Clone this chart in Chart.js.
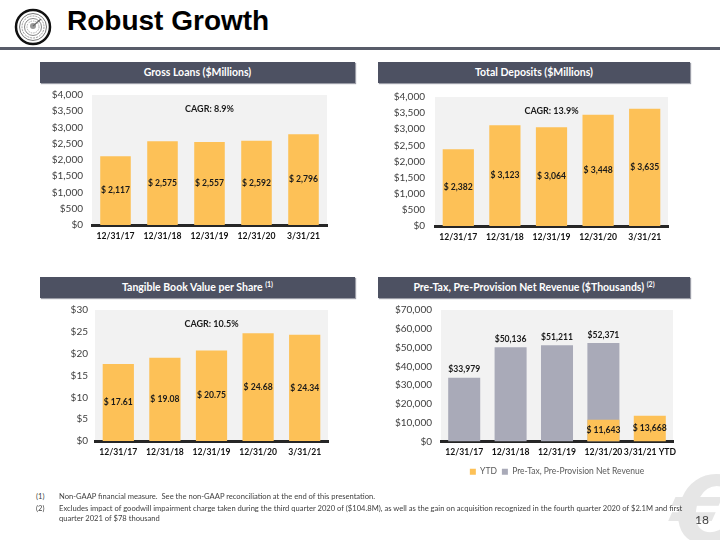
<!DOCTYPE html>
<html>
<head>
<meta charset="utf-8">
<script src="https://cdn.jsdelivr.net/npm/chart.js@4.4.1/dist/chart.umd.min.js"></script>
<style>
  html, body { margin:0; padding:0; background:#ffffff; }
  body { width:720px; height:540px; position:relative; overflow:hidden; font-family: Lato, "Open Sans", sans-serif; }
  .title { position:absolute; left:67px; top:5px; font-family:"Liberation Sans", Arial, sans-serif; font-weight:bold; font-size:28px; color:#000; }
  .rule { position:absolute; left:0; top:47px; width:720px; height:3px; background:#585c69; }
  .hdr { position:absolute; height:21px; line-height:21px; background:#4d5162; color:#fff; font-weight:bold; font-size:10.5px; text-align:center; box-shadow:1px 1px 1px #9a9ca6; }
  .hdr sup { font-size:7px; vertical-align:top; position:relative; top:-3px; }
  .cv { position:absolute; }
  .fn { position:absolute; font-size:7.6px; color:#404040; line-height:10px; }
  .fn .n { position:absolute; left:0; }
  .fn .t { position:absolute; left:23px; white-space:nowrap; }
  .page { position:absolute; left:695px; top:512px; font-size:12px; color:#404040; }
  .wm { position:absolute; left:672px; top:458px; font-family:"DejaVu Sans", sans-serif; font-weight:bold; font-style:italic; font-size:92px; color:#e6e6e6; }
</style>
</head>
<body>
<svg style="position:absolute;left:14px;top:8px" width="38" height="38" viewBox="0 0 38 38">
  <circle cx="19" cy="19" r="17" fill="#fff" stroke="#111" stroke-width="2.5"/>
  <circle cx="19" cy="19" r="13.5" fill="none" stroke="#777" stroke-width="1"/>
  <circle cx="19" cy="19" r="11" fill="none" stroke="#999" stroke-width="1" stroke-dasharray="2 1"/>
  <circle cx="19" cy="19" r="8.5" fill="none" stroke="#888" stroke-width="1"/>
  <circle cx="19" cy="19" r="6" fill="none" stroke="#aaa" stroke-width="1" stroke-dasharray="1.5 1"/>
  <circle cx="19" cy="18" r="3" fill="#999"/>
  <path d="M19 18 L27 11" stroke="#666" stroke-width="1.2"/>
</svg>
<div class="title">Robust Growth</div>
<div class="rule"></div>

<div class="hdr" style="left:40px;top:62px;width:315px;">Gross Loans ($Millions)</div>
<div class="hdr" style="left:378px;top:62px;width:312px;">Total Deposits ($Millions)</div>
<div class="hdr" style="left:40px;top:277px;width:315px;">Tangible Book Value per Share <sup>(1)</sup></div>
<div class="hdr" style="left:378px;top:277px;width:312px;">Pre-Tax, Pre-Provision Net Revenue ($Thousands) <sup>(2)</sup></div>

<div class="cv" style="left:30px;top:80px;width:310px;height:175px;"><canvas id="c1"></canvas></div>
<div class="cv" style="left:365px;top:81px;width:315px;height:176px;"><canvas id="c2"></canvas></div>
<div class="cv" style="left:30px;top:297px;width:310px;height:173px;"><canvas id="c3"></canvas></div>
<div class="cv" style="left:365px;top:295px;width:320px;height:191px;"><canvas id="c4"></canvas></div>

<div class="wm">€</div>
<div class="fn" style="left:36px;top:491px;"><span class="n">(1)</span><span class="t">Non-GAAP financial measure.&nbsp; See the non-GAAP reconciliation at the end of this presentation.</span></div>
<div class="fn" style="left:36px;top:503px;"><span class="n">(2)</span><span class="t">Excludes impact of goodwill impairment charge taken during the third quarter 2020 of ($104.8M), as well as the gain on acquisition recognized in the fourth quarter 2020 of $2.1M and first</span></div>
<div class="fn" style="left:36px;top:513px;"><span class="t">quarter 2021 of $78 thousand</span></div>
<div class="page">18</div>

<script>
// ---------- data ----------
const periods = ["12/31/17", "12/31/18", "12/31/19", "12/31/20", "3/31/21"];
const ppnrPeriods = ["12/31/17", "12/31/18", "12/31/19", "12/31/20", "3/31/21 YTD"];
const grossLoans = [2117, 2575, 2557, 2592, 2796];
const totalDeposits = [2382, 3123, 3064, 3448, 3635];
const tbvps = [17.61, 19.08, 20.75, 24.68, 24.34];
const ppnrAnnual = [33979, 50136, 51211, 52371, null];
const ppnrYTD = [null, null, null, 11643, 13668];
const cagrLoans = "CAGR: 8.9%";
const cagrDeposits = "CAGR: 13.9%";
const cagrTbvps = "CAGR: 10.5%";

// ---------- styling ----------
const ORANGE = "#fdc157";
const GRAY = "#a9aab8";
const FONT = "Lato, 'Open Sans', sans-serif";
Chart.defaults.font.family = FONT;
Chart.defaults.animation = false;

const bgPlugin = {
  id: "plotBg",
  beforeDraw(chart) {
    const a = chart.chartArea, ctx = chart.ctx;
    ctx.save();
    ctx.fillStyle = "#f2f2f2";
    ctx.fillRect(a.left, a.top, a.right - a.left, a.bottom - a.top);
    ctx.restore();
  }
};

const labelPlugin = {
  id: "barLabels",
  afterDatasetsDraw(chart, args, opts) {
    const ctx = chart.ctx;
    ctx.save();
    ctx.font = "bold 8.6px " + FONT;
    ctx.fillStyle = "#1a1a1a";
    ctx.textAlign = "center";
    ctx.textBaseline = "middle";
    chart.data.datasets.forEach((ds, di) => {
      const cfg = (opts.sets || [])[di];
      if (!cfg) return;
      const meta = chart.getDatasetMeta(di);
      meta.data.forEach((bar, i) => {
        const v = ds.data[i];
        if (v == null) return;
        const txt = cfg.fmt(v);
        const y = cfg.mode === "top" ? bar.y - 8 : (bar.y + bar.base) / 2;
        ctx.fillText(txt, bar.x, y);
      });
    });
    if (opts.cagr) {
      const a = chart.chartArea;
      ctx.font = "bold 9px " + FONT;
      ctx.fillText(opts.cagr, (a.left + a.right) / 2, a.top + 14);
    }
    ctx.restore();
  }
};

const money0 = v => "$ " + v.toLocaleString("en-US");
const money0ns = v => "$" + v.toLocaleString("en-US");
const money2 = v => "$ " + v.toFixed(2);

function axes(max, step, yWidth, xHeight, yPad) {
  return {
    x: {
      grid: { display: false, drawTicks: false },
      border: { display: true, color: "#262626", width: 3 },
      ticks: { color: "#111", font: { size: 8.6, weight: "bold" }, padding: 6, maxRotation: 0, autoSkip: false },
      afterFit: s => { s.height = xHeight; }
    },
    y: {
      min: 0, max: max,
      grid: { display: false, drawTicks: false },
      border: { display: false },
      ticks: { stepSize: step, autoSkip: false, color: "#404040", font: { size: 10 }, padding: yPad,
               callback: v => "$" + Number(v).toLocaleString("en-US") },
      afterFit: s => { s.width = yWidth; }
    }
  };
}

function simpleBar(id, labels, data, max, step, yWidth, xHeight, yPad, padTop, padRight, cagr, fmt, barPct) {
  new Chart(document.getElementById(id), {
    type: "bar",
    data: { labels: labels, datasets: [{ data: data, backgroundColor: ORANGE, categoryPercentage: 1, barPercentage: barPct }] },
    options: {
      responsive: true, maintainAspectRatio: false,
      layout: { padding: { top: padTop, right: padRight, left: 0, bottom: 0 } },
      plugins: { legend: { display: false }, tooltip: { enabled: false },
                 barLabels: { sets: [{ mode: "center", fmt: fmt }], cagr: cagr } },
      scales: axes(max, step, yWidth, xHeight, yPad)
    },
    plugins: [bgPlugin, labelPlugin]
  });
}

simpleBar("c1", periods, grossLoans, 4000, 500, 62, 30, 9, 4, 13, cagrLoans, money0, 0.65);
simpleBar("c2", periods, totalDeposits, 4000, 500, 70, 31, 10, 4, 12, cagrDeposits, money0, 0.67);
simpleBar("c3", periods, tbvps, 30, 5, 65, 29, 7, 7, 12, cagrTbvps, money2, 0.67);

new Chart(document.getElementById("c4"), {
  type: "bar",
  data: {
    labels: ppnrPeriods,
    datasets: [
      { label: "YTD", data: ppnrYTD, backgroundColor: ORANGE, order: 0, grouped: false, categoryPercentage: 1, barPercentage: 0.69 },
      { label: "Pre-Tax, Pre-Provision Net Revenue", data: ppnrAnnual, backgroundColor: GRAY, order: 1, grouped: false, categoryPercentage: 1, barPercentage: 0.69 }
    ]
  },
  options: {
    responsive: true, maintainAspectRatio: false,
    layout: { padding: { top: 5, right: 12, left: 0, bottom: 0 } },
    plugins: {
      legend: { display: true, position: "bottom", fullSize: false,
        labels: { boxWidth: 6, boxHeight: 6, padding: 5, color: "#595959", font: { size: 8.5 } } },
      tooltip: { enabled: false },
      barLabels: { sets: [{ mode: "center", fmt: money0 }, { mode: "top", fmt: money0ns }] }
    },
    scales: axes(70000, 10000, 76, 21, 9)
  },
  plugins: [bgPlugin, labelPlugin]
});
</script>
</body>
</html>
